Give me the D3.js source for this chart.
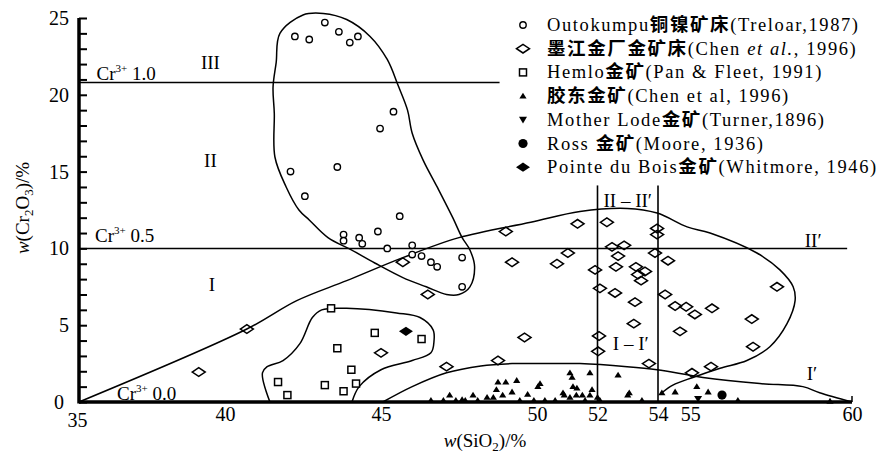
<!DOCTYPE html>
<html>
<head>
<meta charset="utf-8">
<script src="https://cdn.jsdelivr.net/npm/d3@7"></script>
<style>
body{margin:0;background:#fff}
svg{display:block}
text{font-family:"Liberation Serif","Times New Roman","Noto Sans CJK SC",serif;fill:#000}
</style>
</head>
<body>
<script>
// ---- data: [SiO2 %, Cr2O3 %] ----
const xTicks = [35, 40, 45, 50, 52, 54, 55, 60];
const yTicks = [0, 5, 10, 15, 20, 25];

const outokumpu = [[42.24,23.8],[42.7,23.6],[43.2,24.7],[43.65,24.1],[44.0,23.4],[44.26,23.8],
  [45.4,18.9],[44.97,17.8],[42.1,15.0],[43.6,15.3],[42.56,13.4],[45.6,12.1],
  [43.8,10.9],[43.8,10.5],[44.3,10.7],[44.4,10.3],[44.9,11.1],[45.2,10.0],[46.0,10.2],
  [46.0,9.6],[46.3,9.5],[46.6,9.1],[46.8,8.8],[47.6,9.4],[47.6,7.5]];

const mojiang = [[39.1,1.95],[40.7,4.75],[45.7,9.1],[46.5,7.0],[45.0,3.2],[47.1,2.3],[48.75,2.7],
  [49.6,4.2],[49.0,11.1],[49.2,9.1],[50.66,9.0],[51.02,9.7],[51.34,11.6],[52.31,11.7],
  [53.97,11.3],[53.97,10.9],[52.48,10.1],[52.88,10.2],[52.68,9.5],[53.9,9.7],[54.31,9.2],
  [51.92,8.6],[52.61,8.8],[53.27,8.8],[53.57,8.5],[53.34,8.3],[53.44,7.9],[52.08,7.4],
  [52.58,7.1],[53.24,6.5],[54.22,7.0],[54.53,6.25],[54.87,6.2],[55.14,5.7],[55.67,6.1],
  [57.68,7.5],[56.9,5.4],[53.2,5.1],[54.68,4.6],[52.05,4.3],[52.02,3.3],[56.94,3.6],
  [53.7,2.5],[55.64,2.3],[55.05,1.9]];

const hemlo = [[43.4,6.1],[44.8,4.5],[46.3,4.1],[43.6,3.5],[44.05,2.1],[43.2,1.1],[43.8,0.7],
  [44.2,1.2],[42.0,0.45],[41.7,1.3]];

const jiaodong = [[46.6,0.1],[47.0,0.1],[47.4,0.1],[47.7,0.1],[48.1,0.1],[47.2,0.45],[47.6,0.15],
  [47.95,0.45],[48.4,0.3],[48.6,0.3],[48.7,0.8],[48.75,1.3],[49.0,1.3],[49.35,1.4],[49.2,0.65],
  [48.9,0.45],[49.45,0.1],[49.7,0.5],[49.9,0.1],[50.03,1.0],[50.1,1.2],[50.26,0.1],[50.6,0.1],
  [50.86,0.6],[50.9,0.45],[51.09,0.3],[51.19,1.0],[51.32,0.9],[51.09,1.9],[51.16,1.6],
  [51.75,1.9],[51.59,0.1],[51.82,0.8],[51.3,0.45],[51.5,0.45],[51.75,0.45],[52.08,0.1],
  [52.0,0.3],[52.68,1.75],[53.0,0.45],[53.05,0.6],[53.47,0.1],[54.12,0.6],[54.53,0.65],
  [55.2,1.0],[55.55,0.65],[56.47,0.1],[59.32,0.05]];

const motherLode = [[55.24,0.2]];
const ross = [[55.98,0.45]];
const pointeDuBois = [[45.8,4.6]];

// boundary curves
const loopII = [[41.76,24.0],[42.5,25.2],[43.15,25.3],[43.9,24.9],[44.65,23.8],[45.2,22.3],
  [45.55,20.6],[45.85,19.0],[46.0,17.5],[46.35,15.75],[46.8,14.0],[47.3,12.0],[47.6,10.7],
  [47.85,9.9],[48.0,8.8],[47.85,7.5],[47.5,7.0],[47.1,7.0],[46.45,7.5],[45.7,8.1],[44.8,9.05],
  [44.05,9.9],[43.3,10.7],[42.7,11.85],[42.37,12.5],[41.96,14.0],[41.6,15.95],[41.58,18.8],
  [41.54,20.5],[41.64,22.1]];

const curveBig = [[35,0],[40.7,4.75],[42.3,6.6],[43.9,7.9],[45.7,9.4],[47.5,10.7],[49.8,11.7],
  [51.42,12.4],[52.98,12.6],[53.97,12.3],[54.9,11.4],[55.61,11.0],[57.06,9.7],[57.77,8.6],
  [58.18,7.5],[58.24,6.6],[57.99,5.1],[57.46,3.6],[56.75,2.7],[55.92,2.2],[55.08,1.6],
  [54.46,1.1],[54.12,0.6]];

const curveLow = [[45.06,0],[46.0,1.0],[47.1,1.9],[48.2,2.35],[49.2,2.5],[50.3,2.5],[51.42,2.5],
  [52.98,2.3],[53.97,2.1],[55.39,1.6],[57.15,1.2],[58.48,1.0],[59.0,0.6],[60,0]];

const curveHemlo = [[41.44,0],[41.2,1.9],[41.35,2.3],[41.86,2.7],[42.4,3.8],[42.8,5.5],[43.1,6.0],
  [43.9,6.1],[45.5,5.8],[46.25,5.5],[46.67,4.7],[46.7,4.0],[46.6,3.2],[46.0,2.7],[45.0,2.1],
  [44.3,1.0],[44.07,0]];

const crLines = [{label:" 1.0", y:20.8, x1:35, x2:48.8}, {label:" 0.5", y:10.0, x1:35, x2:59.85}];
const dividers = [52, 54];
const dividerTop = 14.1;

const legendLabels = [
  "Outokumpu铜镍矿床(Treloar,1987)",
  "墨江金厂金矿床(Chen <i>et al.</i>, 1996)",
  "Hemlo金矿(Pan & Fleet, 1991)",
  "胶东金矿(Chen et al, 1996)",
  "Mother Lode金矿(Turner,1896)",
  "Ross 金矿(Moore, 1936)",
  "Pointe du Bois金矿(Whitmore, 1946)"
];

// ---- drawing ----
const W = 877, H = 453;
const svg = d3.select("body").append("svg").attr("width", W).attr("height", H);

// hand drawn axis: slightly uneven spacing
const x = d3.scaleLinear().domain([35, 40, 50, 54, 60]).range([79, 225, 537, 658, 852]);
const y = d3.scaleLinear().domain([0, 25]).range([402, 18]);

const line = d3.line().x(d => x(d[0])).y(d => y(d[1]));

// shape helpers
const shapes = {
  circle: (g) => g.append("circle").attr("r", 3.2).attr("fill", "#fff").attr("stroke", "#000").attr("stroke-width", 1.4),
  diamond: (g) => g.append("path").attr("d", "M-6.5,0L0,-4.3L6.5,0L0,4.3Z").attr("fill", "none").attr("stroke", "#000").attr("stroke-width", 1.5),
  square: (g) => g.append("rect").attr("x", -3.5).attr("y", -3.5).attr("width", 7).attr("height", 7).attr("fill", "#fff").attr("stroke", "#000").attr("stroke-width", 1.5),
  tri: (g) => g.append("path").attr("d", "M-3.6,2.4L3.6,2.4L0,-3.4Z").attr("fill", "#000"),
  dtri: (g) => g.append("path").attr("d", "M-4,-3L4,-3L0,3.6Z").attr("fill", "#000"),
  dot: (g) => g.append("circle").attr("r", 4.6).attr("fill", "#000"),
  fdiamond: (g) => g.append("path").attr("d", "M-7,0L0,-4.6L7,0L0,4.6Z").attr("fill", "#000")
};

// Cr3+ lines
crLines.forEach(c => {
  svg.append("line").attr("x1", x(c.x1)).attr("x2", x(c.x2)).attr("y1", y(c.y)).attr("y2", y(c.y))
    .attr("stroke", "#000").attr("stroke-width", 1.5);
});

// vertical dividers
dividers.forEach(v => {
  svg.append("line").attr("x1", x(v)).attr("x2", x(v)).attr("y1", y(0)).attr("y2", y(dividerTop))
    .attr("stroke", "#000").attr("stroke-width", 1.6);
});

// boundary curves
svg.append("path").attr("d", d3.line().x(d => x(d[0])).y(d => y(d[1])).curve(d3.curveCatmullRomClosed)(loopII))
  .attr("fill", "none").attr("stroke", "#000").attr("stroke-width", 1.5);
[curveBig, curveLow, curveHemlo].forEach(c => {
  svg.append("path").attr("d", line.curve(d3.curveCatmullRom)(c))
    .attr("fill", "none").attr("stroke", "#000").attr("stroke-width", 1.5);
});

// points
const series = [
  [outokumpu, "circle"], [mojiang, "diamond"], [hemlo, "square"], [jiaodong, "tri"],
  [motherLode, "dtri"], [ross, "dot"], [pointeDuBois, "fdiamond"]
];
series.forEach(([data, kind]) => {
  svg.append("g").selectAll("g").data(data).enter().append("g")
    .attr("transform", d => `translate(${x(d[0])},${y(d[1])})`)
    .each(function () { shapes[kind](d3.select(this)); });
});

// axes
const yAxisTicks = svg.append("g").attr("transform", `translate(${x(35)},0)`)
  .call(d3.axisRight(y).tickValues(d3.range(0, 26)).tickSize(8).tickFormat(""));
yAxisTicks.selectAll("line").attr("stroke-width", 2);
yAxisTicks.select(".domain").remove();

const yAxis = svg.append("g").attr("transform", `translate(${x(35)},0)`)
  .call(d3.axisLeft(y).tickValues(yTicks).tickSize(0).tickPadding(10));
yAxis.select(".domain").remove();
yAxis.selectAll("text").attr("font-size", 20).style("font-family", "Liberation Serif")
  .attr("dx", d => d === 0 ? -5 : 0);

const xAxis = svg.append("g").attr("transform", `translate(0,${y(0)})`)
  .call(d3.axisBottom(x).tickValues(xTicks).tickSize(0).tickPadding(5));
xAxis.select(".domain").remove();
xAxis.selectAll("text").attr("font-size", 20).style("font-family", "Liberation Serif")
  .attr("dx", d => d === 35 ? -2 : 0).attr("dy", d => d === 35 ? "1.0em" : "0.71em");

svg.append("line").attr("x1", x(35)).attr("x2", x(35)).attr("y1", y(0) + 1.5).attr("y2", y(25))
  .attr("stroke", "#000").attr("stroke-width", 3.5);
svg.append("line").attr("x1", x(35)).attr("x2", x(60)).attr("y1", y(0)).attr("y2", y(0))
  .attr("stroke", "#000").attr("stroke-width", 3.5);
svg.append("line").attr("x1", x(60)).attr("x2", x(60)).attr("y1", y(0)).attr("y2", y(0) - 6)
  .attr("stroke", "#000").attr("stroke-width", 1.5);

// axis titles
const xt = svg.append("text").attr("x", 485).attr("y", 447).attr("text-anchor", "middle").attr("font-size", 19);
xt.append("tspan").attr("font-style", "italic").text("w");
xt.append("tspan").text("(SiO");
xt.append("tspan").attr("font-size", 13).attr("dy", 4).text("2");
xt.append("tspan").attr("dy", -4).text(")/%");

const yt = svg.append("text").attr("transform", "translate(29,208) rotate(-90)").attr("text-anchor", "middle").attr("font-size", 19);
yt.append("tspan").attr("font-style", "italic").text("w");
yt.append("tspan").text("(Cr");
yt.append("tspan").attr("font-size", 13).attr("dy", 4).text("2");
yt.append("tspan").attr("dy", -4).text("O");
yt.append("tspan").attr("font-size", 13).attr("dy", 4).text("3");
yt.append("tspan").attr("dy", -4).text(")/%");

// Cr3+ labels
function crLabel(px, py, val) {
  const t = svg.append("text").attr("x", px).attr("y", py).attr("font-size", 19);
  t.append("tspan").text("Cr");
  t.append("tspan").attr("font-size", 11).attr("dy", -8).text("3+");
  t.append("tspan").attr("dy", 8).text(val);
}
crLabel(x(35.6), y(20.96), crLines[0].label);
crLabel(x(35.55), y(10.4), crLines[1].label);
crLabel(x(36.3), y(0.13), " 0.0");

// region labels
const regionLabels = [
  ["III", 39.5, 21.7], ["II", 39.5, 15.3], ["I", 39.55, 7.2],
  ["II – II′", 53.0, 12.7], ["I – I′", 53.1, 3.4], ["II′", 58.8, 10.1], ["I′", 58.76, 1.4]
];
regionLabels.forEach(([t, a, b]) => {
  svg.append("text").attr("x", x(a)).attr("y", y(b)).attr("text-anchor", "middle")
    .attr("font-size", 19).text(t);
});

// legend
const legendKinds = ["circle", "diamond", "square", "tri", "dtri", "dot", "fdiamond"];
const lg = svg.append("g");
legendLabels.forEach((lab, i) => {
  const ry = 25 + i * 23.7;
  const s = lg.append("g").attr("transform", `translate(523,${ry})`);
  shapes[legendKinds[i]](s);
  const t = lg.append("text").attr("x", 547).attr("y", ry + 6).attr("font-size", 18.5)
    .attr("letter-spacing", 1.6);
  lab.split(/(<i>.*?<\/i>|[\u4e00-\u9fff]+)/).filter(p => p).forEach(p => {
    if (p.startsWith("<i>")) t.append("tspan").attr("font-style", "italic").text(p.slice(3, -4));
    else if (/[\u4e00-\u9fff]/.test(p)) t.append("tspan").attr("font-weight", "bold")
      .style("font-family", "Noto Sans CJK SC").text(p);
    else t.append("tspan").text(p);
  });
});
</script>
</body>
</html>
